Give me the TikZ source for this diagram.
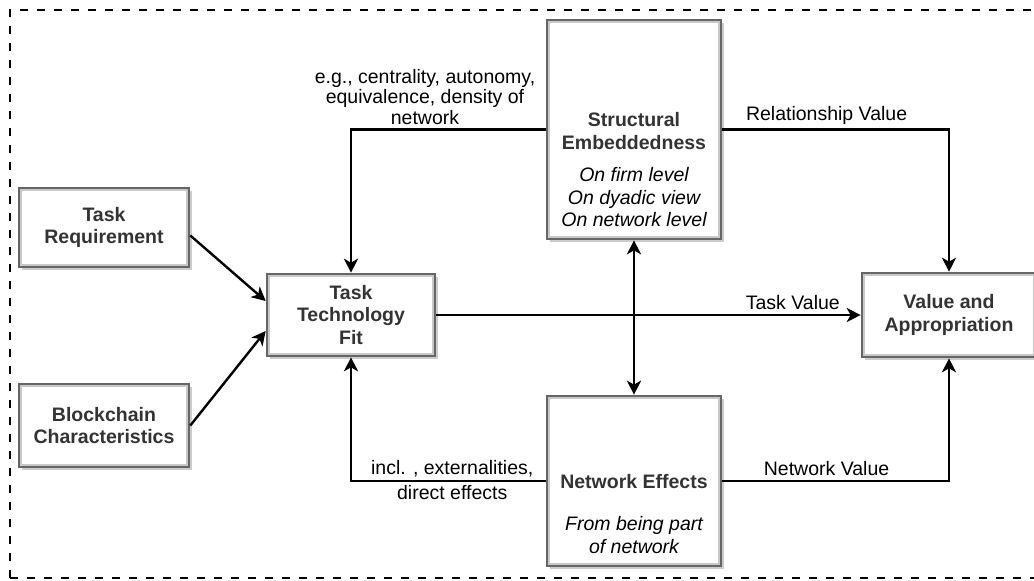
\documentclass[tikz,border=0pt]{standalone}
\usepackage{fontspec}
\setmainfont{Liberation Sans}
\usepackage{xcolor}
\usetikzlibrary{arrows.meta, positioning, shadows}
\definecolor{boxline}{HTML}{666666}
\definecolor{boxinner}{HTML}{C8C8C8}
\definecolor{boxtext}{HTML}{333333}
\newcommand{\diagfont}{\fontsize{19.5}{22.5}\selectfont}
\newcommand{\edgefont}{\fontsize{19.5}{20.5}\selectfont}

\begin{document}
\begin{tikzpicture}[x=1pt, y=-1pt, >={Stealth[length=14pt, width=14pt, inset=4pt]},
  box/.style={draw=boxline, line width=2.6pt, fill=white, inner sep=0pt,
    drop shadow={shadow xshift=3pt, shadow yshift=-3pt, fill=black!40, opacity=0.5}},
  inner/.style={draw=boxinner, line width=2pt},
  boxlabel/.style={text=boxtext, font=\diagfont\bfseries, align=center},
  link/.style={line width=2.4pt, ->},
  lbl/.style={font=\edgefont, align=center, inner sep=4pt}]
  \useasboundingbox (0,0) rectangle (1034,581);
  \draw[line width=2.4pt, dash pattern=on 8pt off 9pt] (10,578) -- (10,10) -- (1045,10);
  \draw[line width=2.4pt, dash pattern=on 8pt off 9pt] (10,578) -- (1045,578);
  % boxes
  \node[box, boxlabel, minimum width=170, minimum height=79] (TR) at (104,227.5) {Task\\Requirement};
  \node[box, boxlabel, minimum width=170, minimum height=83] (BC) at (104,425.5) {Blockchain\\Characteristics};
  \node[box, boxlabel, minimum width=168, minimum height=82] (TTF) at (351,315) {Task\\Technology\\Fit};
  \node[box, minimum width=174, minimum height=219] (SE) at (634,129.5) {};
  \node[box, minimum width=174, minimum height=170] (NE) at (634,481) {};
  \node[box, boxlabel, minimum width=174, minimum height=84] (VA) at (949,315) {Value and\\Appropriation};
  \foreach \n in {TR,BC,TTF,SE,NE,VA}
    \draw[inner] ([shift={(3.2,3.2)}]\n.north west) rectangle ([shift={(-3.2,-3.2)}]\n.south east);
  \node[boxlabel] (SEtext) at (634,170) {Structural\\Embeddedness\\[10pt]
    \normalfont\itshape\color{black}On firm level\\\normalfont\itshape\color{black}On dyadic view\\\normalfont\itshape\color{black}On network level};
  \node[boxlabel] (NEtext) at (634,514) {Network Effects\\[20pt]
    \normalfont\itshape\color{black}From being part\\\normalfont\itshape\color{black}of network};
  % links
  \draw[link] ([yshift=-8pt]TR.east) -- ([yshift=14pt]TTF.west);
  \draw[link] (BC.east) -- ([yshift=-16pt]TTF.west);
  \draw[link] (SE.west) -| (TTF.north) node[lbl, pos=0.31, above] {e.g., centrality, autonomy,\\equivalence, density of\\network};
  \draw[link] (NE.west) -| (TTF.south) node[lbl, pos=0.24, yshift=1pt] {incl. , externalities,\\[5pt]direct effects};
  \draw[link] (TTF.east) -- (VA.west) node[lbl, pos=0.84, above] {Task Value};
  \draw[link] (SE.east) -| (VA.north) node[lbl, pos=0.23, above] {Relationship Value};
  \draw[link] (NE.east) -| (VA.south) node[lbl, pos=0.23, above] {Network Value};
  \draw[link, <->] (SE.south) -- (NE.north);
\end{tikzpicture}
\end{document}
